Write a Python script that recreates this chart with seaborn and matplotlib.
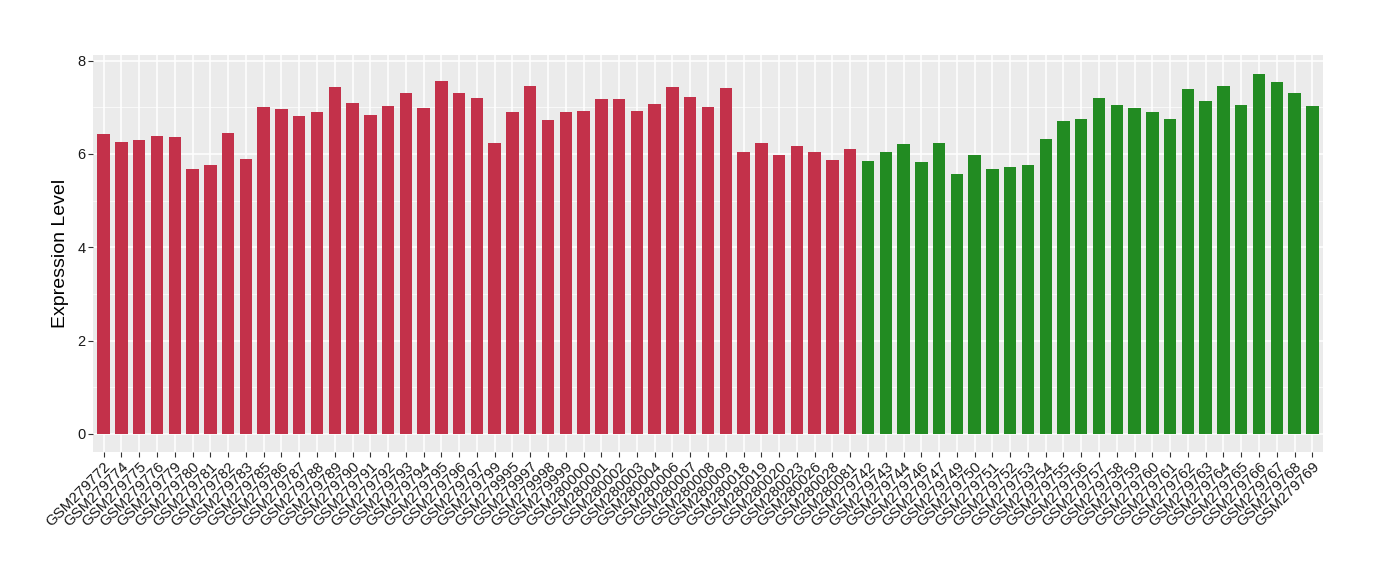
import pandas as pd
import matplotlib
matplotlib.use("Agg")
import matplotlib.pyplot as plt
import seaborn as sns
from matplotlib.ticker import MultipleLocator

# sample ids, first the red group then the green group
red_samples = ["GSM279772", "GSM279774", "GSM279775", "GSM279776", "GSM279779", "GSM279780",
               "GSM279781", "GSM279782", "GSM279783", "GSM279785", "GSM279786", "GSM279787",
               "GSM279788", "GSM279789", "GSM279790", "GSM279791", "GSM279792", "GSM279793",
               "GSM279794", "GSM279795", "GSM279796", "GSM279797", "GSM279799", "GSM279995",
               "GSM279997", "GSM279998", "GSM279999", "GSM280000", "GSM280001", "GSM280002",
               "GSM280003", "GSM280004", "GSM280006", "GSM280007", "GSM280008", "GSM280009",
               "GSM280018", "GSM280019", "GSM280020", "GSM280023", "GSM280026", "GSM280028",
               "GSM280081"]
red_values = [6.42, 6.25, 6.29, 6.38, 6.36, 5.67, 5.77, 6.44, 5.90, 7.00, 6.96, 6.81,
              6.89, 7.43, 7.09, 6.83, 7.02, 7.30, 6.98, 7.56, 7.30, 7.20, 6.23, 6.89,
              7.45, 6.73, 6.89, 6.92, 7.17, 7.17, 6.92, 7.07, 7.43, 7.22, 7.00, 7.41,
              6.05, 6.23, 5.97, 6.18, 6.05, 5.88, 6.10]

green_samples = ["GSM279742", "GSM279743", "GSM279744", "GSM279746", "GSM279747", "GSM279749",
                 "GSM279750", "GSM279751", "GSM279752", "GSM279753", "GSM279754", "GSM279755",
                 "GSM279756", "GSM279757", "GSM279758", "GSM279759", "GSM279760", "GSM279761",
                 "GSM279762", "GSM279763", "GSM279764", "GSM279765", "GSM279766", "GSM279767",
                 "GSM279768", "GSM279769"]
green_values = [5.84, 6.05, 6.21, 5.82, 6.23, 5.56, 5.97, 5.67, 5.71, 5.77, 6.33, 6.70,
                6.76, 7.20, 7.04, 6.98, 6.89, 6.76, 7.39, 7.13, 7.45, 7.04, 7.71, 7.54,
                7.30, 7.02]

df = pd.DataFrame({
    "sample": red_samples + green_samples,
    "expr": red_values + green_values,
    "group": ["A"] * len(red_samples) + ["B"] * len(green_samples),
})

sns.set_theme(style="darkgrid", rc={
    "axes.facecolor": "#EBEBEB",
    "grid.color": "white",
    "axes.edgecolor": "#EBEBEB",
})
plt.rcParams["font.family"] = ["Liberation Sans", "DejaVu Sans"]

fig = plt.figure(figsize=(13.8, 5.8), dpi=100)
ax = fig.add_axes([0.0674, 0.2207, 0.8913, 0.6843])

sns.barplot(data=df, x="sample", y="expr", hue="group", dodge=False,
            palette={"A": "#C3314A", "B": "#228B22"}, width=0.7, saturation=1,
            linewidth=0, legend=False, ax=ax, zorder=3)

ax.set_xlim(-0.6, len(df) - 0.4)
ax.set_ylim(-0.39, 8.12)
ax.yaxis.set_major_locator(MultipleLocator(2))
ax.yaxis.set_minor_locator(MultipleLocator(1))
ax.grid(which="major", color="white", linewidth=1.1)
ax.grid(which="minor", axis="y", color="white", linewidth=0.5)
ax.set_axisbelow(True)
for s in ax.spines.values():
    s.set_visible(False)

ax.tick_params(axis="both", which="major", length=3.5, width=0.8, color="#333333",
               labelsize=10.5, labelcolor="#1a1a1a", pad=2, bottom=True, left=True)
ax.tick_params(axis="y", which="minor", length=0)
plt.setp(ax.get_xticklabels(), rotation=45, ha="right", rotation_mode="anchor", fontsize=10.8)

ax.set_xlabel("")
ax.set_ylabel("Expression Level", fontsize=14, color="black", labelpad=6)

fig.savefig("out.png", dpi=100)
